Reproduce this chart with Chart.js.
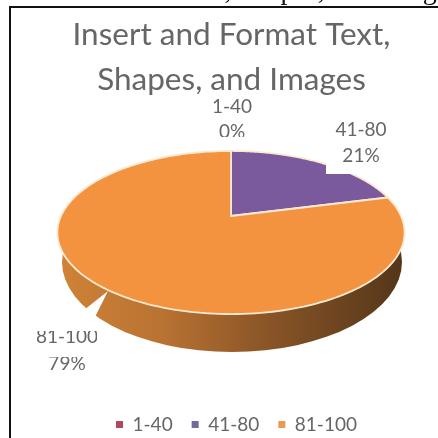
<!DOCTYPE html>
<html>
<head>
<meta charset="utf-8">
<title>Insert and Format Text, Shapes, and Images</title>
<script src="https://cdn.jsdelivr.net/npm/chart.js@4"></script>
<style>
    html, body { margin: 0; padding: 0; background: #fff; overflow: hidden; }
    #chart { display: block; filter: blur(0.55px); }
</style>
</head>
<body>
<canvas id="chart" width="438" height="438"></canvas>
<script>
const categories = ['1-40', '41-80', '81-100'];
const values = [0, 21, 79];
const sliceColors = ['#B0475A', '#7A5A9D', '#F3923F'];
const legendColors = ['#B0475A', '#6F6AA0', '#E89A55'];
const titleLines = ['Insert and Format Text,', 'Shapes, and Images'];
const cutOffHeading = 'Insert and Format Text, Shapes, and Images';

const textColor = '#666666';
const rimColor = '#FBE9D2';

// the top face is a tilted circle, so the centre of the pie sits above the middle of the ellipse
const tilt = { x: 231, y: 216, rx: 170, ry: 78.2, k: -0.2025 };
const wall = { x: 232, y: 262, rx: 170, ry: 90 };

// label boxes have a white background that cuts into the pie, and the text itself is cut off
const labelBoxes = [
    { i: 0, x: 232, y: 107, lineGap: 25, clips: [[200, 90, 64, 27], [200, 121, 64, 16]] },
    { i: 1, x: 361, y: 130, lineGap: 26, box: [326, 115, 70, 59], clips: [[326, 115, 70, 30], [326, 148, 70, 14]] },
    { i: 2, x: 67, y: 337, lineGap: 27, box: [28, 324, 77, 50], clips: [[28, 331, 69, 16], [28, 357, 77, 14]] },
];

function project(angle) {
    const u = Math.cos(angle);
    const v = Math.sin(angle);
    const d = 1 + tilt.k * v;
    return [tilt.x + tilt.rx * u / d, tilt.y + tilt.ry * v / d];
}

const pie3d = {
    id: 'pie3d',
    afterUpdate(chart) {
        // legend sits lower and a little right of the title in the picture
        const legend = chart.legend;
        legend.left += 5;
        legend.right += 5;
        legend.top += 6;
        legend.bottom += 6;
    },
    beforeDraw(chart) {
        // frame of the document page and the line of text cut off above it
        const ctx = chart.ctx;
        ctx.save();
        ctx.fillStyle = '#111';
        ctx.font = '28px "Liberation Serif"';
        ctx.textAlign = 'right';
        ctx.textBaseline = 'alphabetic';
        ctx.fillText(cutOffHeading, 460, -1);
        ctx.fillRect(9, 6, 429, 2);
        ctx.fillRect(9, 6, 2, 432);
        ctx.restore();
    },
    beforeDatasetsDraw(chart) {
        const ctx = chart.ctx;
        const arcs = chart.getDatasetMeta(0).data;

        // side wall, only the front of it shows
        const grad = ctx.createLinearGradient(wall.x - wall.rx, 0, wall.x + wall.rx, 0);
        grad.addColorStop(0, '#CF8237');
        grad.addColorStop(0.3, '#B87232');
        grad.addColorStop(0.6, '#8A5527');
        grad.addColorStop(1, '#54361A');
        ctx.save();
        ctx.fillStyle = grad;
        ctx.beginPath();
        ctx.ellipse(wall.x, wall.y, wall.rx, wall.ry, 0, 0, Math.PI * 2);
        ctx.fill();

        // gap in the wall
        ctx.fillStyle = '#fff';
        ctx.beginPath();
        ctx.moveTo(108, 291);
        ctx.lineTo(84, 310);
        ctx.lineTo(60, 330);
        ctx.lineTo(60, 350);
        ctx.lineTo(105, 350);
        ctx.lineTo(105, 324);
        ctx.lineTo(95, 317);
        ctx.closePath();
        ctx.fill();

        // top face, angles come from the chart's own arc elements
        arcs.forEach((arc, i) => {
            const { startAngle, endAngle } = arc.getProps(['startAngle', 'endAngle'], true);
            if (endAngle - startAngle <= 0) return;
            ctx.beginPath();
            ctx.moveTo(tilt.x, tilt.y);
            for (let n = 0; n <= 180; n++) {
                const p = project(startAngle + (endAngle - startAngle) * n / 180);
                ctx.lineTo(p[0], p[1]);
            }
            ctx.closePath();
            ctx.fillStyle = sliceColors[i];
            ctx.fill();
            ctx.strokeStyle = rimColor;
            ctx.lineWidth = 1.8;
            ctx.stroke();
        });
        ctx.restore();
        return false;
    },
    afterDraw(chart) {
        // returning false above skips afterDatasetsDraw, so the labels go here
        const ctx = chart.ctx;
        const total = values.reduce((a, b) => a + b, 0);
        ctx.save();
        ctx.textAlign = 'center';
        ctx.textBaseline = 'middle';
        ctx.font = '19px Lato';
        labelBoxes.forEach(b => {
            if (b.box) {
                ctx.fillStyle = '#fff';
                ctx.fillRect(b.box[0], b.box[1], b.box[2], b.box[3]);
            }
            ctx.fillStyle = textColor;
            const lines = [categories[b.i], Math.round(values[b.i] / total * 100) + '%'];
            lines.forEach((text, n) => {
                const c = b.clips[n];
                ctx.save();
                ctx.beginPath();
                ctx.rect(c[0], c[1], c[2], c[3]);
                ctx.clip();
                ctx.fillText(text, b.x, b.y + n * b.lineGap);
                ctx.restore();
            });
        });
        ctx.restore();
    },
};

new Chart(document.querySelector('#chart'), {
    type: 'pie',
    data: {
        labels: categories,
        datasets: [{ data: values, backgroundColor: legendColors, borderWidth: 0 }],
    },
    options: {
        responsive: false,
        animation: false,
        layout: { padding: { left: 25, top: 12, bottom: 0 } },
        plugins: {
            tooltip: { enabled: false },
            title: {
                display: true,
                text: titleLines,
                color: textColor,
                font: { family: 'Lato', size: 31.5, weight: 'normal', lineHeight: 1.43 },
                padding: { top: 0, bottom: 0 },
            },
            legend: {
                position: 'bottom',
                labels: {
                    color: textColor,
                    font: { family: 'Lato', size: 19 },
                    boxWidth: 7,
                    boxHeight: 7,
                    padding: 19,
                },
            },
        },
    },
    plugins: [pie3d],
});
</script>
</body>
</html>
